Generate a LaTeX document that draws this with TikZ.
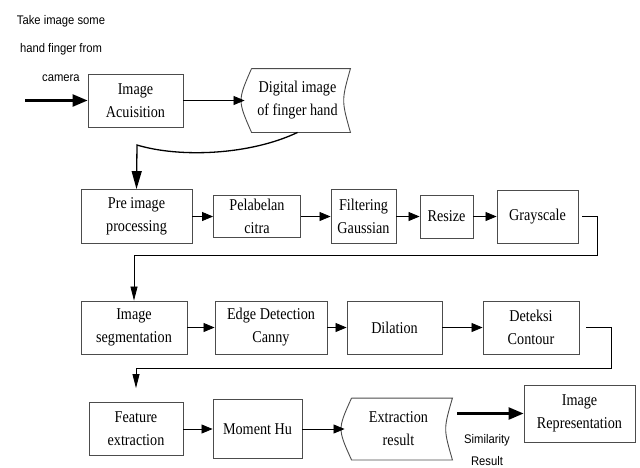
\documentclass[tikz,border=0pt]{standalone}
\usepackage{fontspec}
\setmainfont{Liberation Serif}[FakeStretch=0.86]
\newfontfamily\notefont{Liberation Sans}[FakeStretch=0.9]
\usetikzlibrary{arrows.meta}

\tikzset{
  box/.style={draw=black!70, line width=0.9pt, inner sep=0pt, align=center,
    font=\fontsize{16.5}{23}\selectfont},
  note/.style={align=center, inner sep=0pt, font=\notefont\fontsize{12.5}{28.5}\selectfont},
  flow/.style={draw=black, line width=0.8pt, -{Triangle[length=11pt,width=9pt]}},
  link/.style={draw=black, line width=0.8pt, -{Triangle[length=14pt,width=7pt]}},
  fat/.style={draw=black, line width=2.5pt, -{Triangle[length=15pt,width=12pt]}}
}

\begin{document}
\begin{tikzpicture}[x=1pt,y=-1pt]
  \useasboundingbox (0,0) rectangle (640,467);

  \begin{scope}[every node/.style={box}]
    \node[minimum width=95pt, minimum height=53pt] (acq) at (135.5,100.5) {Image\\Acuisition};
    \node[draw=none, minimum width=105pt, minimum height=63pt] (dig) at (297.5,100.5) {Digital image\\of finger hand};

    \node[minimum width=111pt, minimum height=54pt] (pre) at (136.5,216.5) {Pre image\\processing};
    \node[minimum width=87pt, minimum height=42pt] (lab) at (257,216.5) {Pelabelan\\citra};
    \node[minimum width=65pt, minimum height=54pt] (gau) at (363.5,216.5) {Filtering\\Gaussian};
    \node[minimum width=53pt, minimum height=43pt] (rsz) at (446.5,216.5) {Resize};
    \node[minimum width=81pt, minimum height=53pt] (gry) at (537.5,216.5) {Grayscale};

    \node[minimum width=106pt, minimum height=53pt] (seg) at (134,327.5) {Image\\segmentation};
    \node[minimum width=112pt, minimum height=53pt] (can) at (271,327.5) {Edge Detection\\Canny};
    \node[minimum width=95pt, minimum height=53pt] (dil) at (394.5,327.5) {Dilation};
    \node[minimum width=96pt, minimum height=53pt] (con) at (531,327.5) {Deteksi\\Contour};

    \node[minimum width=94pt, minimum height=53pt] (fea) at (136,429) {Feature\\extraction};
    \node[minimum width=89pt, minimum height=59pt] (hu) at (257.5,429) {Moment Hu};
    \node[draw=none, minimum width=107pt, minimum height=61pt] (ext) at (398.5,429) {Extraction\\result};
    \node[minimum width=111pt, minimum height=57pt] (rep) at (579.5,413.5) {Image\\Representation};
  \end{scope}

  \draw[black!70, line width=0.9pt] ([xshift=7pt]dig.north west) -- (dig.north east)
    .. controls ([xshift=-9pt]dig.east) .. (dig.south east) -- ([xshift=7pt]dig.south west)
    .. controls ([xshift=-7pt]dig.west) .. ([xshift=7pt]dig.north west);
  \draw[black!70, line width=0.9pt] ([xshift=7pt]ext.north west) -- (ext.north east)
    .. controls ([xshift=-9pt]ext.east) .. (ext.south east) -- ([xshift=7pt]ext.south west)
    .. controls ([xshift=-7pt]ext.west) .. ([xshift=7pt]ext.north west);

  \node[note] (cam) at (61,48.5) {Take image some\\hand finger from\\camera};
  \node[note, font=\notefont\fontsize{12.5}{22}\selectfont] (sim) at (487,450) {Similarity\\Result};

  \coordinate (in) at (25,100.5);
  \coordinate (dip) at (137,145);
  \coordinate (gr) at (597,255);
  \coordinate (ct) at (611,368);
  \coordinate (out) at (457,413.5);

  \draw[fat] (in) -- (acq.west);
  \draw[fat] (out) -- (rep.west);

  \begin{scope}[every edge/.style={flow}]
    \path (acq) edge (dig.west);
    \path (pre) edge (lab);
    \path (lab) edge (gau);
    \path (gau) edge (rsz);
    \path (rsz) edge (gry);
    \path (seg) edge (can);
    \path (can) edge (dil);
    \path (dil) edge (con);
    \path (fea) edge (hu);
    \path (hu) edge (ext.west);
  \end{scope}

  \draw[line width=1.3pt, -{Triangle[length=18pt,width=10pt]}] (dig.south)
    .. controls (250,155) and (180,158) .. (dip) -- (pre.north);
  \draw[link, shorten <=4pt] (gry.east) -| (gr) -| (seg.north);
  \draw[link, shorten <=7pt, shorten >=14pt] (con.east) -| (ct) -| (fea.north);
\end{tikzpicture}
\end{document}
